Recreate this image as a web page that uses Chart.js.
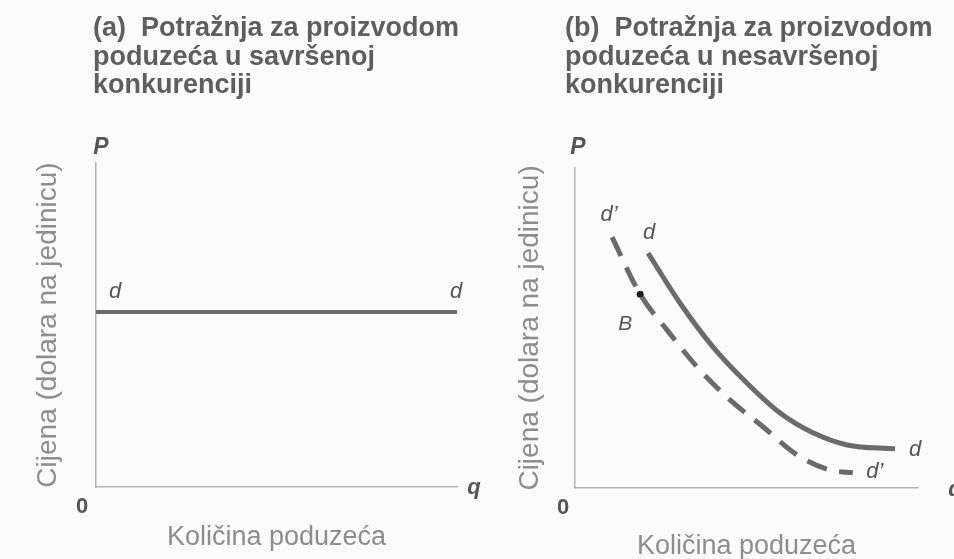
<!DOCTYPE html>
<html><head><meta charset="utf-8">
<script src="https://cdn.jsdelivr.net/npm/chart.js@4/dist/chart.umd.min.js"></script>
<style>
html,body{margin:0;padding:0;background:#fbfbfb;}
#wrap{position:relative;width:954px;height:559px;overflow:hidden;background:#fbfbfb;}
.panel{position:absolute;top:0;height:559px;}
</style></head><body>
<div id="wrap">
<div class="panel" style="left:0;width:500px"><canvas id="ca" width="500" height="559"></canvas></div>
<div class="panel" style="left:477px;width:477px"><canvas id="cb" width="477" height="559"></canvas></div>
</div>
<script>
// ---- data ----
const titleA = ['(a)  Potražnja za proizvodom', 'poduzeća u savršenoj', 'konkurenciji'];
const titleB = ['(b)  Potražnja za proizvodom', 'poduzeća u nesavršenoj', 'konkurenciji'];
const yAxisTitle = 'Cijena (dolara na jedinicu)';
const xAxisTitle = 'Količina poduzeća';

// (a) perfectly elastic demand
const perfectQ = [0, 10];
const perfectP = [5.4, 5.4];

// (b) downward sloping demand d
const dQ = [2.13, 3.06, 4.02, 5.01, 5.98, 6.94, 7.93, 9.33];
const dP = [7.34, 5.78, 4.41, 3.28, 2.34, 1.72, 1.34, 1.22];

// (b) shifted demand d'
const dPrimeQ = [1.08, 1.90, 2.68, 3.56, 4.52, 5.48, 6.47, 7.43, 8.10];
const dPrimeP = [7.84, 6.05, 4.94, 3.78, 2.75, 1.91, 1.03, 0.56, 0.47];

// point B
const pointBQ = [1.90];
const pointBP = [6.05];

const toXY = (xs, ys) => xs.map((x, i) => ({x: x, y: ys[i]}));

// ---- styles ----
const curveColor = '#6b6b6b';
const axisColor = '#b3b3b3';
const labelColor = '#555555';
const axisTitleColor = '#8d8d8d';
const titleColor = '#5e5e5e';
const FONT = '"Liberation Sans", Arial, Helvetica, sans-serif';

const textPlugin = {
  id: 'panelText',
  afterDraw(chart, args, opts) {
    const ctx = chart.ctx;
    const xs = chart.scales.x, ys = chart.scales.y;
    const ca = chart.chartArea;
    ctx.save();
    // panel title
    ctx.fillStyle = titleColor;
    ctx.font = 'bold 27px ' + FONT;
    ctx.textAlign = 'left';
    ctx.textBaseline = 'middle';
    opts.title.forEach((line, i) => ctx.fillText(line, opts.titleX, 29 + i * 28.5));
    // labels
    opts.labels.forEach(l => {
      let px, py;
      if (l.anchor === 'data') { px = xs.getPixelForValue(l.q); py = ys.getPixelForValue(l.p); }
      else { px = l.ax === 'left' ? ca.left : ca.right; py = l.ay === 'top' ? ca.top : ca.bottom; }
      ctx.font = l.font + ' ' + FONT;
      ctx.fillStyle = labelColor;
      ctx.textAlign = 'center';
      ctx.textBaseline = 'middle';
      ctx.fillText(l.text, px + l.dx, py + l.dy);
    });
    ctx.restore();
  }
};

function makeScales(xTitlePad, yTitlePad) {
  return {
    x: {
      type: 'linear', min: 0, max: 10,
      grid: {display: false, drawTicks: false},
      ticks: {display: false},
      border: {display: true, color: axisColor, width: 1.5},
      title: {display: true, text: xAxisTitle, color: axisTitleColor,
              font: {family: FONT, size: 27, weight: 'normal', lineHeight: 0.9}, padding: xTitlePad}
    },
    y: {
      type: 'linear', min: 0, max: 10,
      grid: {display: false, drawTicks: false},
      ticks: {display: false},
      border: {display: true, color: axisColor, width: 1.5},
      title: {display: true, text: yAxisTitle, color: axisTitleColor,
              font: {family: FONT, size: 28, weight: 'normal', lineHeight: 1.2}, padding: yTitlePad}
    }
  };
}

const common = {
  responsive: false,
  animation: false,
  events: [],
  plugins: {legend: {display: false}, tooltip: {enabled: false}, title: {display: false}}
};

new Chart(document.getElementById('ca'), {
  type: 'scatter',
  data: {
    datasets: [{
      data: toXY(perfectQ, perfectP), showLine: true,
      borderColor: curveColor, borderWidth: 4, pointRadius: 0, tension: 0
    }]
  },
  options: Object.assign({}, common, {
    layout: {padding: {left: 31.2, right: 43, top: 163, bottom: 0}},
    scales: makeScales({top: 38.85, bottom: 8.85}, {top: 0, bottom: 31.2}),
    plugins: Object.assign({}, common.plugins, {
      panelText: {
        title: titleA, titleX: 93,
        labels: [
          {text: 'P', ax: 'left', ay: 'top', dx: 5, dy: -15, font: 'italic bold 23px'},
          {text: 'q', ax: 'right', ay: 'bottom', dx: 17, dy: 1, font: 'italic bold 22px'},
          {text: '0', ax: 'left', ay: 'bottom', dx: -14, dy: 20, font: 'bold 22px'},
          {text: 'd', anchor: 'data', q: perfectQ[0], p: perfectP[0], dx: 19, dy: -20, font: 'italic 22px'},
          {text: 'd', anchor: 'data', q: perfectQ[1], p: perfectP[1], dx: -1, dy: -20, font: 'italic 22px'}
        ]
      }
    })
  }),
  plugins: [textPlugin]
});

new Chart(document.getElementById('cb'), {
  type: 'scatter',
  data: {
    datasets: [
      {
        data: toXY(dQ, dP), showLine: true,
        borderColor: curveColor, borderWidth: 5, pointRadius: 0,
        cubicInterpolationMode: 'monotone', borderCapStyle: 'butt'
      },
      {
        data: toXY(dPrimeQ, dPrimeP), showLine: true,
        borderColor: curveColor, borderWidth: 5, pointRadius: 0,
        cubicInterpolationMode: 'monotone', borderDash: [21, 12.5], borderCapStyle: 'butt'
      },
      {
        data: toXY(pointBQ, pointBP), showLine: false,
        pointRadius: 3.5, pointBackgroundColor: '#1e1e1e', pointBorderWidth: 0
      }
    ]
  },
  options: Object.assign({}, common, {
    layout: {padding: {left: 36.2, right: 36, top: 168, bottom: 0}},
    scales: makeScales({top: 46.85, bottom: 0}, {top: 0, bottom: 28.2}),
    plugins: Object.assign({}, common.plugins, {
      panelText: {
        title: titleB, titleX: 88,
        labels: [
          {text: 'P', ax: 'left', ay: 'top', dx: 3, dy: -20, font: 'italic bold 23px'},
          {text: 'q', ax: 'right', ay: 'bottom', dx: 37, dy: 2, font: 'italic bold 22px'},
          {text: '0', ax: 'left', ay: 'bottom', dx: -12, dy: 20, font: 'bold 22px'},
          {text: 'd’', anchor: 'data', q: dPrimeQ[0], p: dPrimeP[0], dx: -3, dy: -22, font: 'italic 22px'},
          {text: 'd', anchor: 'data', q: dQ[0], p: dP[0], dx: 1, dy: -20, font: 'italic 22px'},
          {text: 'B', anchor: 'data', q: pointBQ[0], p: pointBP[0], dx: -15, dy: 30, font: 'italic 21px'},
          {text: 'd', anchor: 'data', q: dQ[dQ.length - 1], p: dP[dP.length - 1], dx: 20, dy: 1, font: 'italic 22px'},
          {text: 'd’', anchor: 'data', q: dPrimeQ[dPrimeQ.length - 1], p: dPrimeP[dPrimeP.length - 1], dx: 22, dy: -1, font: 'italic 22px'}
        ]
      }
    })
  }),
  plugins: [textPlugin]
});
</script>
</body></html>
